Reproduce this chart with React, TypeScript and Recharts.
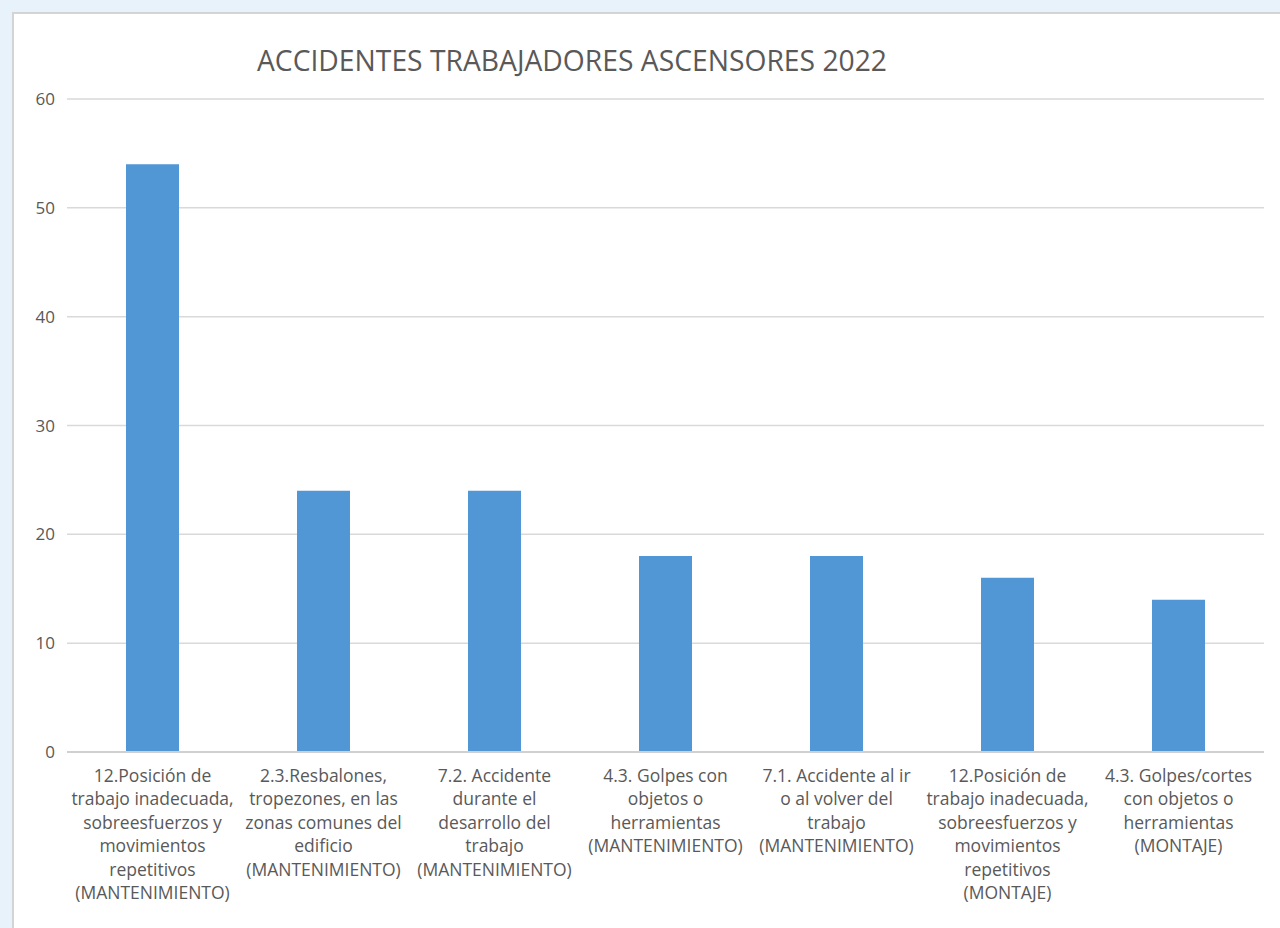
import { Bar, BarChart, CartesianGrid, XAxis, YAxis } from "recharts";

const categories = [
  "12.Posición de\ntrabajo inadecuada,\nsobreesfuerzos y\nmovimientos\nrepetitivos\n(MANTENIMIENTO)",
  "2.3.Resbalones,\ntropezones, en las\nzonas comunes del\nedificio\n(MANTENIMIENTO)",
  "7.2. Accidente\ndurante el\ndesarrollo del\ntrabajo\n(MANTENIMIENTO)",
  "4.3. Golpes con\nobjetos o\nherramientas\n(MANTENIMIENTO)",
  "7.1. Accidente al ir\no al volver del\ntrabajo\n(MANTENIMIENTO)",
  "12.Posición de\ntrabajo inadecuada,\nsobreesfuerzos y\nmovimientos\nrepetitivos\n(MONTAJE)",
  "4.3. Golpes/cortes\ncon objetos o\nherramientas\n(MONTAJE)",
];
const accidents = [54, 24, 24, 18, 18, 16, 14];
const yTicks = [0, 10, 20, 30, 40, 50, 60];

const data = categories.map((name, i) => ({ name, value: accidents[i] }));

const FONT = "'Open Sans', sans-serif";
const TEXT = "#595959";

function CategoryTick(props: any) {
  const { x, y, payload } = props;
  const lines = String(payload.value).split("\n");
  return (
    <text
      x={x}
      y={y}
      textAnchor="middle"
      fill={TEXT}
      fontFamily={FONT}
      fontSize={17.5}
    >
      {lines.map((line, i) => (
        <tspan key={i} x={x} dy={i === 0 ? 30 : 23.4}>
          {line}
        </tspan>
      ))}
    </text>
  );
}

export default function App() {
  return (
    <div
      style={{
        position: "absolute",
        left: 0,
        top: 0,
        width: 1280,
        height: 928,
        overflow: "hidden",
        background: "#e7f2fa",
      }}
    >
      <div
        style={{
          position: "absolute",
          left: 12,
          top: 12,
          width: 1290,
          height: 940,
          background: "#ffffff",
          border: "2px solid #d4d4d4",
          boxSizing: "border-box",
        }}
      />
      <svg
        width={1280}
        height={100}
        style={{ position: "absolute", left: 0, top: 0 }}
      >
        <text
          x={572}
          y={71}
          textAnchor="middle"
          fill={TEXT}
          fontFamily={FONT}
          fontSize={30}
          textLength={630}
          lengthAdjust="spacingAndGlyphs"
        >
          ACCIDENTES TRABAJADORES ASCENSORES 2022
        </text>
      </svg>
      <div style={{ position: "absolute", left: 12, top: 12 }}>
        <BarChart
          width={1268}
          height={916}
          data={data}
          margin={{ top: 87, right: 16, bottom: 6, left: 0 }}
        >
          <CartesianGrid vertical={false} stroke="#d9d9d9" strokeWidth={1.5} />
          <XAxis
            dataKey="name"
            interval={0}
            height={170}
            tickSize={0}
            tickMargin={0}
            tickLine={false}
            axisLine={{ stroke: "#d0d0d0", strokeWidth: 2 }}
            tick={<CategoryTick />}
          />
          <YAxis
            domain={[0, 60]}
            ticks={yTicks}
            width={55}
            tickSize={0}
            tickMargin={12}
            tickLine={false}
            axisLine={false}
            tick={{ fill: TEXT, fontFamily: FONT, fontSize: 17 }}
          />
          <Bar
            dataKey="value"
            fill="#5197d5"
            barSize={53}
            isAnimationActive={false}
          />
        </BarChart>
      </div>
    </div>
  );
}
